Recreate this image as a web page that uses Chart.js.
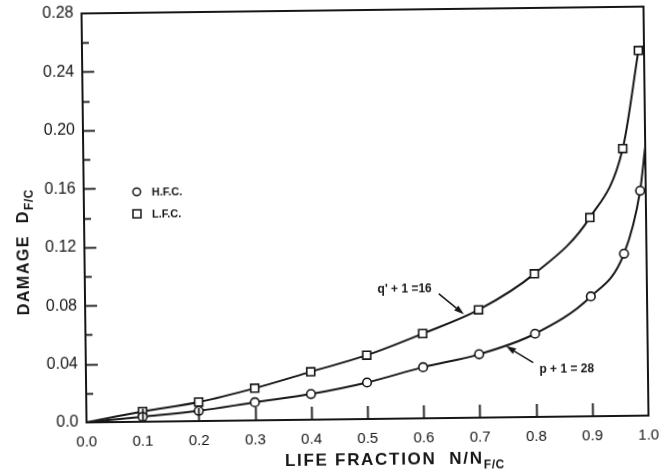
<!DOCTYPE html>
<html><head><meta charset="utf-8">
<script src="https://cdn.jsdelivr.net/npm/chart.js@4.4.1/dist/chart.umd.min.js"></script>
<style>html,body{margin:0;padding:0;background:#fff;overflow:hidden}#wrap{width:668px;height:473px;position:relative;background:#fff}
#c{transform:rotate(-0.7deg);transform-origin:367px 214px}</style>
</head><body><div id="wrap"><canvas id="c" width="668" height="473"></canvas></div>
<script>
// ---- data ----
const lifeFraction = [0.1, 0.2, 0.3, 0.4, 0.5, 0.6, 0.7, 0.8, 0.9, 0.96, 0.99];
const damageHFC    = [0.0034, 0.007, 0.0124, 0.0176, 0.025, 0.035, 0.0434, 0.057, 0.082, 0.111, 0.154];
const damageLFC    = [0.007, 0.013, 0.022, 0.0328, 0.0437, 0.058, 0.0738, 0.098, 0.136, 0.183, 0.25];
const curveStart   = [0, 0];
const hfcCurveEnd  = [1.0, 0.184];
const xTickLabels  = ['0.0','0.1','0.2','0.3','0.4','0.5','0.6','0.7','0.8','0.9','1.0'];
const yTickLabels  = ['0.0','0.04','0.08','0.12','0.16','0.20','0.24','0.28'];
const legendLabels = ['H.F.C.', 'L.F.C.'];
const annLFC = {text: "q' + 1 =16", at: [0.674, 0.0708]};
const annHFC = {text: 'p + 1 = 28', at: [0.748, 0.0488]};

const INK = '#161616';
const FONT = '"Liberation Sans", Arial, sans-serif';

function pts(xs, ys) { return xs.map((x, i) => ({x: x, y: ys[i]})); }
const hfcData = [{x: curveStart[0], y: curveStart[1]}, ...pts(lifeFraction, damageHFC), {x: hfcCurveEnd[0], y: hfcCurveEnd[1]}];
const lfcData = [{x: curveStart[0], y: curveStart[1]}, ...pts(lifeFraction, damageLFC)];
const hfcRadius = hfcData.map((p, i) => (i === 0 || i === hfcData.length - 1) ? 0 : 4.3);
const lfcRadius = lfcData.map((p, i) => i === 0 ? 0 : 5.6);

function arrow(ctx, fx, fy, tx, ty) {
  const a = Math.atan2(ty - fy, tx - fx), L = 10, W = 3.2;
  const bx = tx - L * Math.cos(a), by = ty - L * Math.sin(a);
  ctx.beginPath(); ctx.moveTo(fx, fy); ctx.lineTo(bx, by); ctx.stroke();
  ctx.beginPath();
  ctx.moveTo(tx, ty);
  ctx.lineTo(bx + W * Math.sin(a), by - W * Math.cos(a));
  ctx.lineTo(bx - W * Math.sin(a), by + W * Math.cos(a));
  ctx.closePath(); ctx.fill();
}

const decor = {
  id: 'decor',
  beforeDraw(chart) {
    const ctx = chart.ctx;
    ctx.save(); ctx.fillStyle = '#fff'; ctx.fillRect(0, 0, chart.width, chart.height); ctx.restore();
  },
  afterDraw(chart) {
    const {ctx, chartArea: ca, scales: {x, y}} = chart;
    ctx.save();
    ctx.strokeStyle = INK; ctx.fillStyle = INK;
    // frame
    ctx.lineWidth = 2;
    ctx.strokeRect(ca.left, ca.top, ca.right - ca.left, ca.bottom - ca.top);
    // inward ticks
    ctx.lineWidth = 1.8;
    y.ticks.forEach(t => {
      if (t.value <= y.min + 1e-9 || t.value >= y.max - 1e-9) return;
      const k = Math.round(t.value * 100);
      const len = (k % 4 === 0) ? 12 : 7;
      const py = Math.round(y.getPixelForValue(t.value)) + 0.5;
      ctx.beginPath(); ctx.moveTo(ca.left, py); ctx.lineTo(ca.left + len, py); ctx.stroke();
    });
    x.ticks.forEach(t => {
      if (t.value <= x.min + 1e-9 || t.value >= x.max - 1e-9) return;
      const px = Math.round(x.getPixelForValue(t.value)) + 0.5;
      ctx.beginPath(); ctx.moveTo(px, ca.bottom); ctx.lineTo(px, ca.bottom - 13); ctx.stroke();
    });
    // legend
    const lx = ca.left + 53, ly = ca.top + 179;
    ctx.lineWidth = 1.5;
    ctx.fillStyle = '#fff';
    ctx.beginPath(); ctx.arc(lx, ly, 3.8, 0, Math.PI * 2); ctx.fill(); ctx.stroke();
    ctx.fillRect(lx - 4, ly + 18, 8, 8); ctx.strokeRect(lx - 4, ly + 18, 8, 8);
    ctx.fillStyle = INK;
    ctx.font = 'bold 11px ' + FONT; ctx.textBaseline = 'middle'; ctx.textAlign = 'left';
    ctx.fillText(legendLabels[0], lx + 15, ly + 1);
    ctx.fillText(legendLabels[1], lx + 15, ly + 23);
    // annotations
    ctx.lineWidth = 1.5;
    ctx.font = 'bold 12px ' + FONT;
    let tx = x.getPixelForValue(annLFC.at[0]), ty = y.getPixelForValue(annLFC.at[1]);
    arrow(ctx, tx - 25, ty - 21, tx, ty);
    ctx.textAlign = 'right'; ctx.fillText(annLFC.text, tx - 32, ty - 26);
    tx = x.getPixelForValue(annHFC.at[0]); ty = y.getPixelForValue(annHFC.at[1]);
    arrow(ctx, tx + 27, ty + 17, tx, ty);
    ctx.textAlign = 'left'; ctx.fillText(annHFC.text, tx + 33, ty + 24);
    // x title
    ctx.textBaseline = 'alphabetic'; ctx.textAlign = 'left';
    ctx.font = 'bold 17px ' + FONT;
    ctx.letterSpacing = '1.7px';
    let sx = 282, sy = 465;
    const main = 'LIFE FRACTION  N/N';
    ctx.fillText(main, sx, sy);
    sx += ctx.measureText(main).width;
    ctx.font = 'bold 12px ' + FONT; ctx.letterSpacing = '0.6px';
    ctx.fillText('F/C', sx, sy + 5);
    // y title
    ctx.save();
    ctx.translate(28, 311);
    ctx.rotate(-Math.PI / 2);
    ctx.font = 'bold 16px ' + FONT; ctx.letterSpacing = '1.5px';
    const ym = 'DAMAGE  D';
    ctx.fillText(ym, 0, 0);
    const w = ctx.measureText(ym).width;
    ctx.font = 'bold 12px ' + FONT; ctx.letterSpacing = '0.5px';
    ctx.fillText('F/C', w, 5);
    ctx.restore();
    ctx.restore();
  }
};

new Chart(document.getElementById('c'), {
  type: 'line',
  data: {
    datasets: [
      {label: legendLabels[0], data: hfcData, pointStyle: 'circle', pointRadius: hfcRadius,
       borderColor: INK, borderWidth: 2, pointBackgroundColor: '#fff', pointBorderColor: INK,
       pointBorderWidth: 1.6, cubicInterpolationMode: 'monotone', fill: false},
      {label: legendLabels[1], data: lfcData, pointStyle: 'rect', pointRadius: lfcRadius,
       borderColor: INK, borderWidth: 2, pointBackgroundColor: '#fff', pointBorderColor: INK,
       pointBorderWidth: 1.6, cubicInterpolationMode: 'monotone', fill: false}
    ]
  },
  options: {
    responsive: false, animation: false, devicePixelRatio: 1,
    layout: {padding: {top: 10, right: 22, left: 0, bottom: 0}},
    plugins: {legend: {display: false}, tooltip: {enabled: false}},
    elements: {point: {hoverRadius: 0}},
    scales: {
      x: {type: 'linear', min: 0, max: 1,
          grid: {display: false, drawTicks: false}, border: {display: false},
          ticks: {stepSize: 0.1, autoSkip: false, maxRotation: 0, padding: 11, color: INK,
                  font: {size: 15, family: FONT},
                  callback: v => xTickLabels[Math.round(v * 10)]},
          afterFit(s) { s.height = 54; s.paddingLeft = 0; s.paddingRight = 0; }},
      y: {type: 'linear', min: 0, max: 0.28,
          grid: {display: false, drawTicks: false}, border: {display: false},
          ticks: {stepSize: 0.02, autoSkip: false, padding: 8, color: INK,
                  font: {size: 16, family: FONT},
                  callback: v => { const k = Math.round(v * 100); return k % 4 ? '' : yTickLabels[k / 4]; }},
          afterFit(s) { s.width = 84; s.paddingTop = 0; s.paddingBottom = 0; }}
    }
  },
  plugins: [decor]
});
</script></body></html>
